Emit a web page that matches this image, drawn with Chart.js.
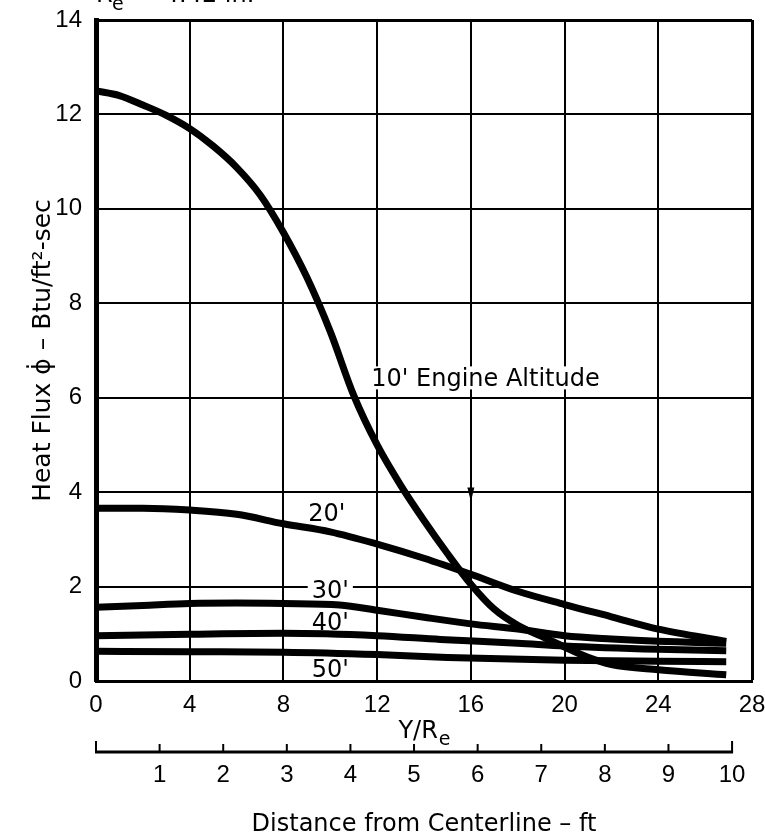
<!DOCTYPE html>
<html><head><meta charset="utf-8">
<script src="https://cdn.jsdelivr.net/npm/chart.js@4.4.1/dist/chart.umd.min.js"></script>
<style>html,body{margin:0;padding:0;background:#fff;}</style>
</head><body>
<canvas id="c" width="765" height="834"></canvas>
<script>
// ---- data ----
const RE_IN = 4.42;                       // nozzle exit radius, inches
const yTicks = [0, 2, 4, 6, 8, 10, 12, 14];
const xTicks = [0, 4, 8, 12, 16, 20, 24, 28];
const ftTicks = [1, 2, 3, 4, 5, 6, 7, 8, 9, 10];

const x10 = [0, 1, 2, 3, 4, 5, 6, 7, 8, 9, 10, 11, 12, 13, 14, 15, 16, 17, 18, 19, 20, 21, 22, 24, 26.9];
const y10 = [12.5, 12.4, 12.2, 11.98, 11.7, 11.33, 10.88, 10.3, 9.5, 8.55, 7.4, 6.05, 5.0, 4.15, 3.4, 2.7, 2.05, 1.52, 1.18, 0.95, 0.72, 0.5, 0.35, 0.24, 0.13];

const x20 = [0, 2, 4, 6, 8, 10, 12, 14, 16, 18, 20, 22, 24, 26.9];
const y20 = [3.66, 3.66, 3.62, 3.53, 3.33, 3.16, 2.9, 2.6, 2.26, 1.9, 1.62, 1.36, 1.1, 0.84];

const x30 = [0, 2, 4, 6, 8, 10.4, 12, 14, 16, 18, 20, 22, 24, 26.9];
const y30 = [1.56, 1.6, 1.64, 1.65, 1.64, 1.61, 1.5, 1.35, 1.21, 1.1, 0.96, 0.89, 0.84, 0.8];

const x40 = [0, 4, 8, 12, 14.7, 18, 20, 24, 26.9];
const y40 = [0.96, 0.99, 1.01, 0.96, 0.88, 0.8, 0.74, 0.67, 0.64];

const x50 = [0, 4, 8, 12, 15, 20, 24, 26.9];
const y50 = [0.63, 0.62, 0.61, 0.56, 0.5, 0.44, 0.42, 0.41];

const seriesNames = ["10'", "20'", "30'", "40'", "50'"];
const labelTexts = ["10' Engine Altitude", "20'", "30'", "40'", "50'"];
const labelX = [11.75, 9.85, 10.0, 10.0, 10.0];
const labelY = [6.24, 3.38, 1.75, 1.08, 0.09];

// ---- rendering ----
const FONT = "'DejaVu Sans', sans-serif";
const TFONT = "'Liberation Sans', 'DejaVu Sans', sans-serif";
const pts = (xs, ys) => xs.map((x, i) => ({x: x, y: ys[i]}));
const allX = [x10, x20, x30, x40, x50];
const allY = [y10, y20, y30, y40, y50];

const datasets = seriesNames.map((n, i) => ({
  label: n, data: pts(allX[i], allY[i]),
  borderColor: '#000', borderWidth: 7, pointRadius: 0,
  cubicInterpolationMode: 'monotone', borderCapStyle: 'butt', fill: false
}));

const annotate = {
  id: 'annotate',
  beforeDatasetsDraw(chart) {
    const ctx = chart.ctx, sx = chart.scales.x, sy = chart.scales.y;
    ctx.save();
    ctx.font = '24px ' + FONT;
    ctx.textBaseline = 'alphabetic';
    labelTexts.forEach((t, i) => {
      const w = ctx.measureText(t).width;
      const px = sx.getPixelForValue(labelX[i]);
      const py = sy.getPixelForValue(labelY[i]);
      ctx.textAlign = i === 0 ? 'left' : 'center';
      const left = i === 0 ? px : px - w / 2;
      ctx.fillStyle = '#fff';
      ctx.fillRect(left - 4, py - 20, w + 8, 23);
      ctx.fillStyle = '#000';
      ctx.fillText(t, px, py);
    });
    // arrow at Y/Re = 16 pointing to the 4 line
    const ax = sx.getPixelForValue(16), ay = sy.getPixelForValue(3.8);
    ctx.beginPath();
    ctx.moveTo(ax, ay); ctx.lineTo(ax - 3.5, ay - 14); ctx.lineTo(ax + 3.5, ay - 14); ctx.closePath();
    ctx.fill();
    ctx.restore();
  },
  afterDraw(chart) {
    const ctx = chart.ctx, s = chart.scales.x2, sx = chart.scales.x;
    const yLine = s.top + 5;
    ctx.save();
    ctx.strokeStyle = '#000';
    ctx.fillStyle = '#000';
    ctx.lineWidth = 3;
    ctx.beginPath();
    ctx.moveTo(s.getPixelForValue(0) - 1, yLine);
    ctx.lineTo(s.getPixelForValue(10) + 1, yLine);
    ctx.stroke();
    ctx.lineWidth = 2;
    [0].concat(ftTicks).forEach(v => {
      const px = s.getPixelForValue(v);
      const h = (v === 0 || v === 10) ? 11 : 8;
      ctx.beginPath(); ctx.moveTo(px, yLine); ctx.lineTo(px, yLine - h); ctx.stroke();
    });
    // x axis title "Y/Re" with subscript
    const cx = (chart.chartArea.left + chart.chartArea.right) / 2;
    ctx.textBaseline = 'alphabetic';
    ctx.textAlign = 'left';
    ctx.font = '24px ' + FONT;
    const wMain = ctx.measureText('Y/R').width;
    ctx.font = '19px ' + FONT;
    const wSub = ctx.measureText('e').width;
    const x0 = cx - (wMain + wSub) / 2;
    ctx.font = '24px ' + FONT;
    ctx.fillText('Y/R', x0, sx.bottom - 9);
    ctx.font = '19px ' + FONT;
    ctx.fillText('e', x0 + wMain + 1, sx.bottom - 2);
    // clipped header text "Re = 4.42 in."
    ctx.font = '24px ' + FONT;
    ctx.fillText('R', 96, 2);
    ctx.font = '19px ' + FONT;
    ctx.fillText('e', 112, 10);
    ctx.font = '24px ' + FONT;
    ctx.fillText('= 4.42 in.', 136, 2);
    ctx.restore();
  }
};

new Chart(document.getElementById('c'), {
  type: 'line',
  data: { datasets: datasets },
  options: {
    responsive: false, animation: false, devicePixelRatio: 1,
    layout: { padding: { top: 20, right: 13, left: 0, bottom: 0 } },
    plugins: { legend: { display: false }, tooltip: { enabled: false } },
    scales: {
      x: {
        type: 'linear', position: 'bottom', min: 0, max: 28,
        afterBuildTicks: s => { s.ticks = xTicks.map(v => ({ value: v })); },
        afterFit: s => { s.height = 66; s.paddingLeft = 0; s.paddingRight = 0; },
        grid: { color: '#000', lineWidth: c => (c.tick && c.tick.value === 28) ? 3 : 2, drawTicks: false },
        border: { display: true, color: '#000', width: 3 },
        ticks: { color: '#000', font: { family: TFONT, size: 24 }, padding: 10, maxRotation: 0, autoSkip: false },
        title: { display: false }
      },
      x2: {
        type: 'linear', position: 'bottom', min: 0, max: 28 * RE_IN / 12,
        afterBuildTicks: s => { s.ticks = ftTicks.map(v => ({ value: v })); },
        afterFit: s => { s.height = 87; s.paddingLeft = 0; s.paddingRight = 0; },
        grid: { display: false, drawTicks: false },
        border: { display: false },
        ticks: { color: '#000', font: { family: TFONT, size: 24 }, padding: 14, maxRotation: 0, autoSkip: false },
        title: { display: true, text: 'Distance from Centerline – ft', color: '#000', font: { family: FONT, size: 24, lineHeight: 0.8 }, padding: { top: 0, bottom: 0 } }
      },
      y: {
        type: 'linear', min: 0, max: 14,
        afterBuildTicks: s => { s.ticks = yTicks.map(v => ({ value: v })); },
        afterFit: s => { s.width = 96; s.paddingTop = 0; s.paddingBottom = 0; },
        grid: { color: '#000', lineWidth: c => (c.tick && c.tick.value === 14) ? 3 : 2, drawTicks: false },
        border: { display: true, color: '#000', width: 5 },
        ticks: { color: '#000', font: { family: TFONT, size: 24 }, padding: 14 },
        title: { display: true, text: 'Heat Flux ϕ̇ – Btu/ft²-sec', color: '#000', font: { family: FONT, size: 25 }, padding: { top: 28, bottom: 0 } }
      }
    }
  },
  plugins: [annotate]
});
</script>
</body></html>
